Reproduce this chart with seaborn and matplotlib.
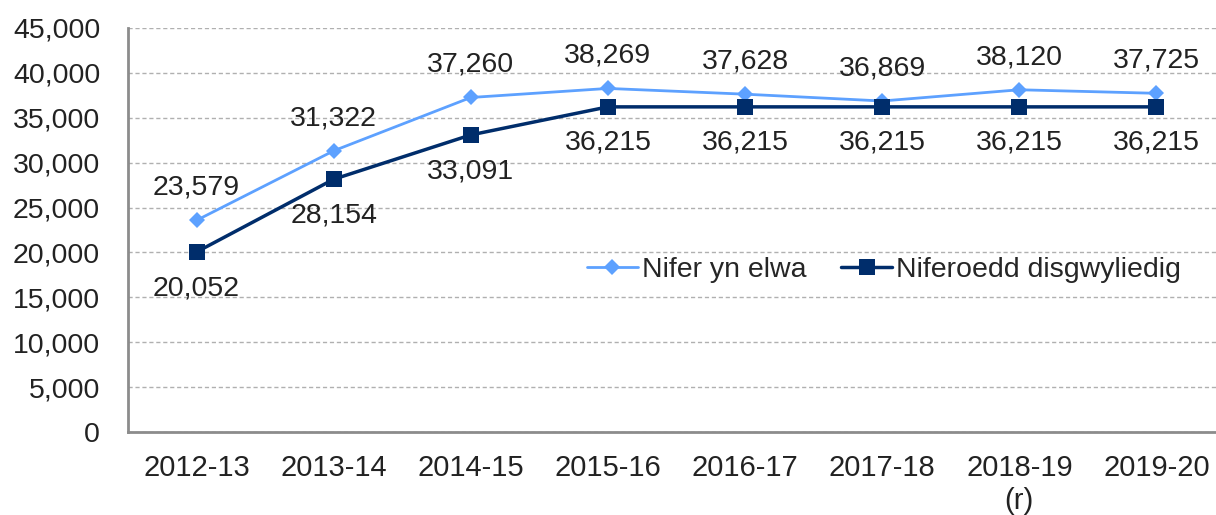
import matplotlib
matplotlib.use("Agg")
import matplotlib.pyplot as plt
import seaborn as sns
import pandas as pd
from matplotlib.ticker import FuncFormatter, MultipleLocator
from matplotlib.lines import Line2D

years = ["2012-13", "2013-14", "2014-15", "2015-16", "2016-17", "2017-18", "2018-19\n(r)", "2019-20"]
nifer_yn_elwa = [23579, 31322, 37260, 38269, 37628, 36869, 38120, 37725]
niferoedd_disgwyliedig = [20052, 28154, 33091, 36215, 36215, 36215, 36215, 36215]
series_names = ["Nifer yn elwa", "Niferoedd disgwyliedig"]
colors = ["#5DA1FF", "#002D6B"]

sns.set_theme(style="white")
plt.rcParams["font.family"] = ["Liberation Sans", "DejaVu Sans"]

df = pd.DataFrame({
    "year": years * 2,
    "x": list(range(len(years))) * 2,
    "value": nifer_yn_elwa + niferoedd_disgwyliedig,
    "series": [series_names[0]] * len(years) + [series_names[1]] * len(years),
})

fig = plt.figure(figsize=(12.16, 5.15), dpi=100)
ax = fig.add_axes([128 / 1216, 83 / 515, 1097 / 1216, 404 / 515])

sns.lineplot(data=df, x="x", y="value", hue="series", style="series",
             palette=colors, markers={series_names[0]: "D", series_names[1]: "s"},
             dashes=False, sort=False, ax=ax, legend=False)
lines = ax.get_lines()
lines[0].set_linewidth(2.0); lines[0].set_markersize(8.5); lines[0].set_markeredgewidth(0)
lines[1].set_linewidth(2.5); lines[1].set_markersize(11); lines[1].set_markeredgewidth(0)

fs = 20.5
for i, v in enumerate(nifer_yn_elwa):
    ax.annotate(f"{v:,}", (i, v), xytext=(0, 23.5), textcoords="offset points",
                ha="center", va="center", fontsize=fs, color="#222222")
for i, v in enumerate(niferoedd_disgwyliedig):
    ax.annotate(f"{v:,}", (i, v), xytext=(0, -26), textcoords="offset points",
                ha="center", va="center", fontsize=fs, color="#222222")

ax.set_xlim(-0.5, len(years) - 0.5)
ax.set_ylim(0, 45000)
ax.set_xticks(range(len(years)))
ax.set_xticklabels(years)
ax.yaxis.set_major_locator(MultipleLocator(5000))
ax.yaxis.set_major_formatter(FuncFormatter(lambda v, p: f"{int(v):,}"))
ax.tick_params(axis="both", length=0, labelsize=fs, colors="#222222")
ax.tick_params(axis="x", labelsize=21, pad=16)
ax.tick_params(axis="y", pad=20)
ax.set_xlabel("")
ax.set_ylabel("")
ax.yaxis.grid(True, linestyle=(0, (3, 2)), color="#b0b0b0", linewidth=1)
ax.xaxis.grid(False)
for s in ["top", "right"]:
    ax.spines[s].set_visible(False)
for s in ["left", "bottom"]:
    ax.spines[s].set_color("#8c8c8c")
    ax.spines[s].set_linewidth(2)

handles = [Line2D([], [], color=colors[0], lw=2.0, marker="D", markersize=8.5, markeredgewidth=0),
           Line2D([], [], color=colors[1], lw=2.5, marker="s", markersize=11, markeredgewidth=0)]
fig.legend(handles, series_names, loc="center", bbox_to_anchor=(0.727, 0.475),
           ncol=2, frameon=False, fontsize=fs, handlelength=1.8, handletextpad=0.15,
           columnspacing=1.2)

fig.savefig("out.png", dpi=100, facecolor="white")
